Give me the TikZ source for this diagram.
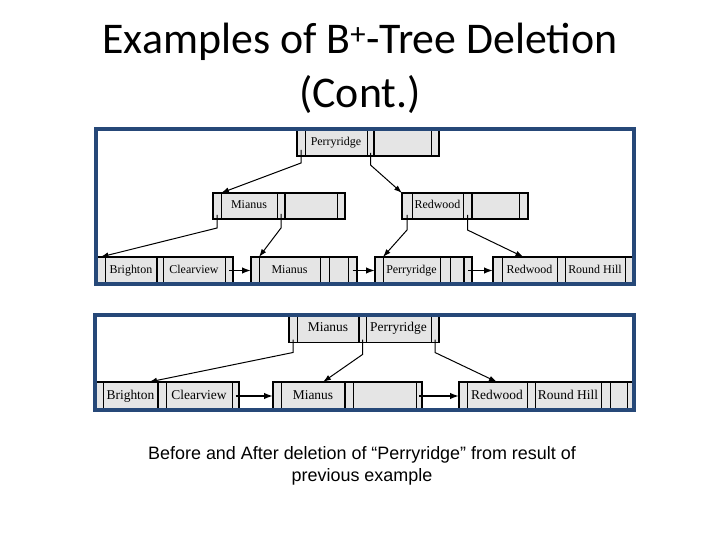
\documentclass[tikz,border=0pt]{standalone}
\usepackage{fontspec}
\usetikzlibrary{positioning,arrows.meta}
\setmainfont{Liberation Serif}
\newfontfamily\slidefont{Carlito}
\newfontfamily\notefont{Liberation Sans}
\definecolor{framecol}{RGB}{38,72,120}
\definecolor{cellgray}{gray}{0.9}

\tikzset{
  cell/.style={draw, line width=0.6bp, fill=cellgray, inner sep=0pt, outer sep=0pt},
  topcell/.style={cell, minimum height=27bp, text height=8bp, text depth=2.4bp, font=\fontsize{12}{14}\selectfont},
  midcell/.style={cell, minimum height=26bp, text height=8bp, text depth=2.4bp, font=\fontsize{12}{14}\selectfont},
  lowcell/.style={cell, minimum height=28bp, text height=9bp, text depth=2.7bp, font=\fontsize{13.5}{16}\selectfont},
  outline/.style={line width=1.8bp},
  ptr/.style={-{Latex[length=8bp,width=5.5bp]}, line width=1bp},
  link/.style={-{Latex[length=9bp,width=6.5bp]}, line width=1.6bp},
  frame/.style={draw=framecol, line width=4bp}
}

\begin{document}
\begin{tikzpicture}[x=1bp,y=-1bp]
  \useasboundingbox (0,0) rectangle (720,540);

  \node[font=\slidefont\fontsize{44}{54}\selectfont, align=center] (title) at (360,68)
    {Examples of B\textsuperscript{+}-Tree Deletion\\(Cont.)};

  % before
  \node[topcell, minimum width=8bp, anchor=west] (r1) at (297,142.5) {};
  \node[topcell, minimum width=62bp, right=0pt of r1] (r2) {Perryridge};
  \node[topcell, minimum width=7bp, right=0pt of r2] (r3) {};
  \node[topcell, minimum width=57bp, right=0pt of r3] (r4) {};
  \node[topcell, minimum width=8bp, right=0pt of r4] (r5) {};
  \draw[outline] (r1.north west) rectangle (r5.south east);
  \draw[outline] (r3.north east) -- (r3.south east);

  \node[midcell, minimum width=8bp, anchor=west] (m1) at (213,206) {};
  \node[midcell, minimum width=56bp, right=0pt of m1] (m2) {Mianus};
  \node[midcell, minimum width=8bp, right=0pt of m2] (m3) {};
  \node[midcell, minimum width=52bp, right=0pt of m3] (m4) {};
  \node[midcell, minimum width=8bp, right=0pt of m4] (m5) {};
  \draw[outline] (m1.north west) rectangle (m5.south east);
  \draw[outline] (m3.north east) -- (m3.south east);

  \node[midcell, minimum width=10bp, anchor=west] (w1) at (402,206) {};
  \node[midcell, minimum width=51bp, right=0pt of w1] (w2) {Redwood};
  \node[midcell, minimum width=9bp, right=0pt of w2] (w3) {};
  \node[midcell, minimum width=47bp, right=0pt of w3] (w4) {};
  \node[midcell, minimum width=9bp, right=0pt of w4] (w5) {};
  \draw[outline] (w1.north west) rectangle (w5.south east);
  \draw[outline] (w3.north east) -- (w3.south east);

  \node[topcell, minimum width=9bp, anchor=west] (a1) at (96,270.5) {};
  \node[topcell, minimum width=52bp, right=0pt of a1] (a2) {Brighton};
  \node[topcell, minimum width=6bp, right=0pt of a2] (a3) {};
  \node[topcell, minimum width=62bp, right=0pt of a3] (a4) {Clearview};
  \node[topcell, minimum width=8bp, right=0pt of a4] (a5) {};
  \draw[outline] (a1.north west) rectangle (a5.south east);
  \draw[outline] (a2.north east) -- (a2.south east);

  \node[topcell, minimum width=8bp, anchor=west] (b1) at (251,270.5) {};
  \node[topcell, minimum width=61bp, right=0pt of b1] (b2) {Mianus};
  \node[topcell, minimum width=9bp, right=0pt of b2] (b3) {};
  \node[topcell, minimum width=19bp, right=0pt of b3] (b4) {};
  \node[topcell, minimum width=9bp, right=0pt of b4] (b5) {};
  \draw[outline] (b1.north west) rectangle (b5.south east);

  \node[topcell, minimum width=8bp, anchor=west] (c1) at (375,270.5) {};
  \node[topcell, minimum width=57bp, right=0pt of c1] (c2) {Perryridge};
  \node[topcell, minimum width=10bp, right=0pt of c2] (c3) {};
  \node[topcell, minimum width=14bp, right=0pt of c3] (c4) {};
  \node[topcell, minimum width=8bp, right=0pt of c4] (c5) {};
  \draw[outline] (c1.north west) rectangle (c5.south east);
  \draw[outline] (c4.north east) -- (c4.south east);

  \node[topcell, minimum width=9bp, anchor=west] (d1) at (493,270.5) {};
  \node[topcell, minimum width=55bp, right=0pt of d1] (d2) {Redwood};
  \node[topcell, minimum width=8bp, right=0pt of d2] (d3) {};
  \node[topcell, minimum width=60bp, right=0pt of d3] (d4) {Round Hill};
  \node[topcell, minimum width=8.5bp, right=0pt of d4] (d5) {};
  \draw[outline] (d1.north west) rectangle (d5.south east);

  \draw[ptr] ([yshift=6bp]r1.south) -- ++(0,13) -- (m1.north east);
  \draw[ptr] ([yshift=3bp]r3.south) -- ++(0,12) -- (w1.north west);
  \draw[ptr] ([yshift=4bp]m1.south) -- ++(0,13) -- (a1.north);
  \draw[ptr] ([yshift=5bp]m3.south) -- ++(0,14) -- (b1.north east);
  \draw[ptr] ([yshift=4bp]w1.south) -- ++(0,15) -- (c1.north east);
  \draw[ptr] ([yshift=4bp]w3.south) -- ++(0,15) -- ([xshift=-6bp]d2.north);
  \draw[link] (a5.center) -- (b1.west);
  \draw[link] (b5.center) -- (c1.west);
  \draw[link] (c5.center) -- (d1.west);

  \draw[frame] (96,129) rectangle (633.5,284);

  % after
  \node[lowcell, minimum width=8bp, anchor=west] (s1) at (289,328.5) {};
  \node[lowcell, minimum width=62bp, right=0pt of s1] (s2) {Mianus};
  \node[lowcell, minimum width=7bp, right=0pt of s2] (s3) {};
  \node[lowcell, minimum width=65bp, right=0pt of s3] (s4) {Perryridge};
  \node[lowcell, minimum width=8bp, right=0pt of s4] (s5) {};
  \draw[outline] (s1.north west) rectangle (s5.south east);
  \draw[outline] (s2.north east) -- (s2.south east);

  \node[lowcell, minimum width=8bp, anchor=west] (e1) at (95,396) {};
  \node[lowcell, minimum width=55bp, right=0pt of e1] (e2) {Brighton};
  \node[lowcell, minimum width=8bp, right=0pt of e2] (e3) {};
  \node[lowcell, minimum width=66bp, right=0pt of e3] (e4) {Clearview};
  \node[lowcell, minimum width=7bp, right=0pt of e4] (e5) {};
  \draw[outline] (e1.north west) rectangle (e5.south east);
  \draw[outline] (e2.north east) -- (e2.south east);

  \node[lowcell, minimum width=8bp, anchor=west] (f1) at (273,396) {};
  \node[lowcell, minimum width=64bp, right=0pt of f1] (f2) {Mianus};
  \node[lowcell, minimum width=8bp, right=0pt of f2] (f3) {};
  \node[lowcell, minimum width=63bp, right=0pt of f3] (f4) {};
  \node[lowcell, minimum width=6bp, right=0pt of f4] (f5) {};
  \draw[outline] (f1.north west) rectangle (f5.south east);
  \draw[outline] (f2.north east) -- (f2.south east);

  \node[lowcell, minimum width=8bp, anchor=west] (g1) at (459,396) {};
  \node[lowcell, minimum width=60bp, right=0pt of g1] (g2) {Redwood};
  \node[lowcell, minimum width=8bp, right=0pt of g2] (g3) {};
  \node[lowcell, minimum width=66bp, right=0pt of g3] (g4) {Round Hill};
  \node[lowcell, minimum width=9bp, right=0pt of g4] (g5) {};
  \node[lowcell, minimum width=17bp, right=0pt of g5] (g6) {};
  \node[lowcell, minimum width=6.5bp, right=0pt of g6] (g7) {};
  \draw[outline] (g1.north west) rectangle (g7.south east);

  \draw[ptr] ([yshift=3bp]s1.south) -- ++(0,13) -- ([xshift=-9bp]e2.north east);
  \draw[ptr] ([yshift=3bp]s3.south) -- ++(0,15) -- ([xshift=10bp]f2.north);
  \draw[ptr] ([yshift=3bp]s5.south) -- ++(0,13) -- (g2.north);
  \draw[link] (e5.center) -- (f1.west);
  \draw[link] (f5.center) -- (g1.west);

  \draw[frame] (95,315) rectangle (633.5,410);

  \node[font=\notefont\fontsize{18}{22}\selectfont, align=center] (note) at (362,466)
    {Before and After deletion of “Perryridge” from result of\\previous example};
\end{tikzpicture}
\end{document}
